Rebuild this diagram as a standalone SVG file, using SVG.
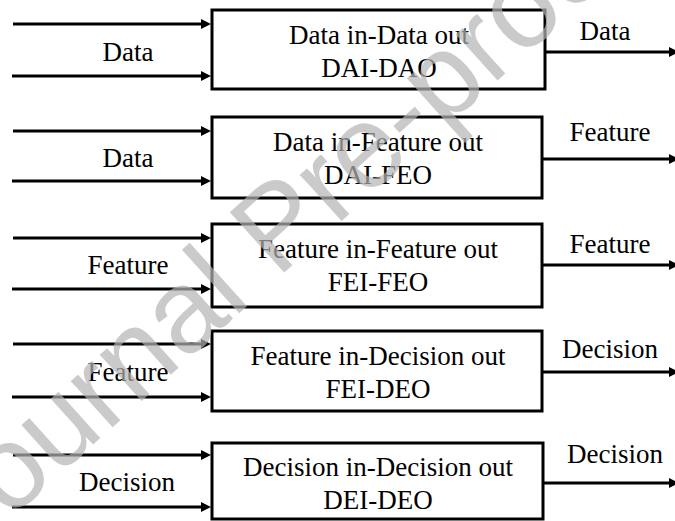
<svg xmlns="http://www.w3.org/2000/svg" width="675" height="521" viewBox="0 0 675 521">
<style>
  .box { fill: #fff; stroke: #000; stroke-width: 3; }
  .t { font-family: 'Liberation Serif', 'DejaVu Serif', serif; font-size: 27px; fill: #000; text-anchor: middle; }
  .c { stroke: #000; stroke-width: 3; fill: none; marker-end: url(#ah); }
  .wm { font-family: 'Liberation Sans', sans-serif; font-size: 118px; fill: #b4b4b4; fill-opacity: 0.7; }
</style>
<defs>
  <marker id="ah" markerUnits="userSpaceOnUse" markerWidth="10" markerHeight="10" refX="2" refY="5" orient="auto">
    <path d="M0,0 L10,5 L0,10 z" fill="#000"/>
  </marker>
</defs>
<rect width="675" height="521" fill="#fff"/>
<g id="connectors">
  <line class="c" x1="13" y1="24" x2="203" y2="24"/>
  <line class="c" x1="12" y1="76" x2="203" y2="76"/>
  <line class="c" x1="545" y1="52" x2="671" y2="52"/>
  <line class="c" x1="13" y1="131" x2="203" y2="131"/>
  <line class="c" x1="12" y1="181" x2="203" y2="181"/>
  <line class="c" x1="542" y1="159" x2="671" y2="159"/>
  <line class="c" x1="13" y1="238" x2="203" y2="238"/>
  <line class="c" x1="12" y1="289" x2="203" y2="289"/>
  <line class="c" x1="542" y1="265" x2="671" y2="265"/>
  <line class="c" x1="13" y1="344" x2="203" y2="344"/>
  <line class="c" x1="12" y1="397" x2="203" y2="397"/>
  <line class="c" x1="542" y1="372" x2="671" y2="372"/>
  <line class="c" x1="13" y1="455" x2="203" y2="455"/>
  <line class="c" x1="12" y1="507" x2="203" y2="507"/>
  <line class="c" x1="543" y1="483" x2="671" y2="483"/>
</g>
<g id="labels" font-family="Liberation Serif, DejaVu Serif, serif">
  <text class="t" font-family="Liberation Serif, serif" x="128" y="61">Data</text>
  <text class="t" font-family="Liberation Serif, serif" x="605" y="40">Data</text>
  <text class="t" font-family="Liberation Serif, serif" x="128" y="167">Data</text>
  <text class="t" font-family="Liberation Serif, serif" x="610" y="141">Feature</text>
  <text class="t" font-family="Liberation Serif, serif" x="128" y="274">Feature</text>
  <text class="t" font-family="Liberation Serif, serif" x="610" y="253">Feature</text>
  <text class="t" font-family="Liberation Serif, serif" x="128" y="381">Feature</text>
  <text class="t" font-family="Liberation Serif, serif" x="610" y="358">Decision</text>
  <text class="t" font-family="Liberation Serif, serif" x="127" y="491">Decision</text>
  <text class="t" font-family="Liberation Serif, serif" x="615" y="463">Decision</text>
</g>
<g id="dai-dao">
  <rect class="box" x="212" y="10" width="333" height="79"/>
  <text class="t" font-family="Liberation Serif, serif" x="379" y="44">Data in-Data out</text>
  <text class="t" font-family="Liberation Serif, serif" x="379" y="77">DAI-DAO</text>
</g>
<g id="dai-feo">
  <rect class="box" x="212" y="117" width="330" height="81"/>
  <text class="t" font-family="Liberation Serif, serif" x="378" y="151">Data in-Feature out</text>
  <text class="t" font-family="Liberation Serif, serif" x="378" y="184">DAI-FEO</text>
</g>
<g id="fei-feo">
  <rect class="box" x="212" y="224" width="330" height="83"/>
  <text class="t" font-family="Liberation Serif, serif" x="378" y="258">Feature in-Feature out</text>
  <text class="t" font-family="Liberation Serif, serif" x="378" y="291">FEI-FEO</text>
</g>
<g id="fei-deo">
  <rect class="box" x="212" y="331" width="330" height="80"/>
  <text class="t" font-family="Liberation Serif, serif" x="378" y="365">Feature in-Decision out</text>
  <text class="t" font-family="Liberation Serif, serif" x="378" y="398">FEI-DEO</text>
</g>
<g id="dei-deo">
  <rect class="box" x="212" y="443" width="331" height="76"/>
  <text class="t" font-family="Liberation Serif, serif" x="378" y="476">Decision in-Decision out</text>
  <text class="t" font-family="Liberation Serif, serif" x="378" y="509">DEI-DEO</text>
</g>
<g id="watermark">
  <text class="wm" transform="translate(-35,560) rotate(-42)">Journal Pre-proof</text>
</g>
</svg>
